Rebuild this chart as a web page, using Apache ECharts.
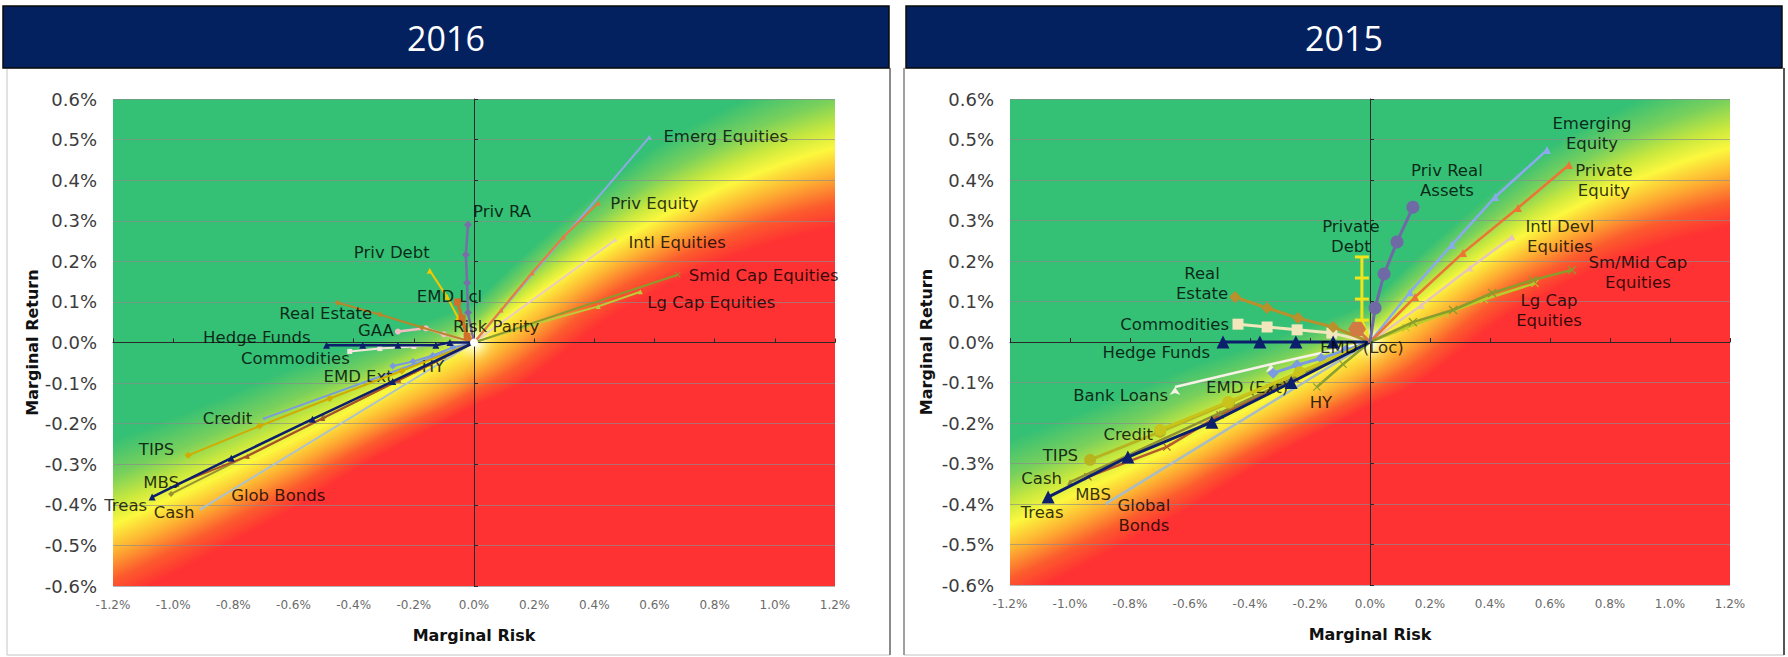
<!DOCTYPE html>
<html>
<head>
<meta charset="utf-8">
<script src="https://cdn.jsdelivr.net/npm/echarts/dist/echarts.min.js"></script>
<style>
html,body{margin:0;padding:0;background:#fff;}
#c{width:1788px;height:657px;}
</style>
</head>
<body>
<div id="c"></div>
<script>
// ================= DATA =================
// Axis ranges (percent units)
const X_MIN = -1.2, X_MAX = 1.2, X_STEP = 0.2;
const Y_MIN = -0.6, Y_MAX = 0.6, Y_STEP = 0.1;
const panelTitles = ['2016', '2015'];
const axisNames = ['Marginal Risk', 'Marginal Return'];

// ---- 2016: [marginal risk %, marginal return %]
const d16_EmergEquities = [[0,0],[0.583,0.506]];
const d16_PrivEquity    = [[0,0],[0.09,0.08],[0.193,0.172],[0.297,0.26],[0.413,0.344]];
const d16_IntlEquities  = [[0,0],[0.47,0.253]];
const d16_SmidCap       = [[0,0],[0.677,0.167]];
const d16_LgCap         = [[0,0],[0.2,0.045],[0.413,0.089],[0.553,0.125]];
const d16_PrivRA        = [[0,0],[-0.02,0.074],[-0.023,0.147],[-0.027,0.216],[-0.02,0.29]];
const d16_PrivDebt      = [[0,0],[-0.053,0.061],[-0.09,0.113],[-0.147,0.177]];
const d16_EMDLcl        = [[0,0],[-0.023,0.015],[-0.04,0.06],[-0.055,0.10]];
const d16_RealEstate    = [[0,0],[-0.173,0.037],[-0.313,0.069],[-0.453,0.098]];
const d16_GAA           = [[0,0],[-0.1,0.02],[-0.16,0.035],[-0.253,0.027]];
const d16_Commodities   = [[0,0],[-0.2,-0.01],[-0.313,-0.015],[-0.413,-0.022]];
const d16_HedgeFunds    = [[0,0],[-0.08,0],[-0.127,-0.007],[-0.253,-0.007],[-0.37,-0.007],[-0.49,-0.007]];
const d16_HY            = [[0,0],[-0.1,-0.035],[-0.2,-0.07]];
const d16_EMDExt        = [[0,0],[-0.07,-0.012],[-0.137,-0.032],[-0.203,-0.047],[-0.27,-0.058]];
const d16_Credit        = [[0,0],[-0.697,-0.187]];
const d16_TIPS          = [[0,0],[-0.24,-0.07],[-0.48,-0.138],[-0.713,-0.206],[-0.95,-0.278]];
const d16_GlobBonds     = [[0,0],[-0.907,-0.41]];
const d16_Cash          = [[0,0],[-0.5,-0.185],[-1.007,-0.373]];
const d16_MBS           = [[0,0],[-0.25,-0.093],[-0.503,-0.187],[-0.753,-0.28],[-0.987,-0.349]];
const d16_Treas         = [[0,0],[-0.27,-0.096],[-0.537,-0.189],[-0.807,-0.285],[-1.07,-0.381]];
const d16_RiskParity    = [[0,0]];

// ---- 2015
const d15_EmergingEquity = [[0,0],[0.133,0.123],[0.273,0.24],[0.417,0.358],[0.59,0.474]];
const d15_PrivateEquity  = [[0,0],[0.15,0.111],[0.31,0.22],[0.493,0.331],[0.663,0.437]];
const d15_IntlDevl       = [[0,0],[0.17,0.09],[0.333,0.183],[0.473,0.259]];
const d15_SmMidCap       = [[0,0],[0.143,0.049],[0.277,0.079],[0.407,0.121],[0.543,0.153],[0.673,0.178]];
const d15_LgCap          = [[0,0],[0.12,0.035],[0.25,0.07],[0.38,0.105],[0.55,0.145]];
const d15_PrivRealAssets = [[0,0],[0.017,0.084],[0.047,0.168],[0.09,0.247],[0.143,0.333]];
const d15_PrivateDebt    = [[0,0],[-0.027,0.054],[-0.027,0.106],[-0.027,0.158],[-0.027,0.21]];
const d15_RealEstate     = [[0,0],[-0.123,0.037],[-0.24,0.059],[-0.343,0.084],[-0.45,0.111]];
const d15_Commodities    = [[0,0],[-0.127,0.022],[-0.243,0.03],[-0.343,0.037],[-0.44,0.044]];
const d15_HedgeFunds     = [[0,0],[-0.123,0],[-0.247,0],[-0.367,0],[-0.49,0]];
const d15_EMDLoc         = [[0,0],[-0.043,0.032]];
const d15_BankLoans      = [[0,0],[-0.33,-0.055],[-0.65,-0.111]];
const d15_EMDExt         = [[0,0],[-0.08,-0.02],[-0.163,-0.04],[-0.243,-0.057],[-0.323,-0.077]];
const d15_HY             = [[0,0],[-0.09,-0.055],[-0.177,-0.111]];
const d15_GlobalBonds    = [[0,0],[-0.877,-0.398]];
const d15_MBS            = [[0,0],[-0.25,-0.09],[-0.5,-0.18],[-0.677,-0.259],[-0.94,-0.333]];
const d15_Cash           = [[0,0],[-0.5,-0.175],[-1.0,-0.346]];
const d15_Credit         = [[0,0],[-0.235,-0.075],[-0.473,-0.148],[-0.70,-0.217]];
const d15_TIPS           = [[0,0],[-0.47,-0.15],[-0.7,-0.222],[-0.933,-0.291]];
const d15_Treas          = [[0,0],[-0.263,-0.1],[-0.527,-0.198],[-0.807,-0.284],[-1.073,-0.383]];

const series2016 = [
  ['Glob Bonds', d16_GlobBonds], ['Intl Equities', d16_IntlEquities], ['Commodities', d16_Commodities],
  ['GAA', d16_GAA], ['Emerg Equities', d16_EmergEquities], ['Priv Equity', d16_PrivEquity],
  ['Lg Cap Equities', d16_LgCap], ['Smid Cap Equities', d16_SmidCap], ['Real Estate', d16_RealEstate],
  ['Credit', d16_Credit], ['HY', d16_HY], ['EMD Ext', d16_EMDExt], ['TIPS', d16_TIPS],
  ['Cash', d16_Cash], ['MBS', d16_MBS], ['Treas', d16_Treas], ['Hedge Funds', d16_HedgeFunds],
  ['Priv Debt', d16_PrivDebt], ['EMD Lcl', d16_EMDLcl], ['Priv RA', d16_PrivRA], ['Risk Parity', d16_RiskParity]
];
const series2015 = [
  ['Global Bonds', d15_GlobalBonds], ['Bank Loans', d15_BankLoans], ['Intl Devl Equities', d15_IntlDevl],
  ['Commodities', d15_Commodities], ['Emerging Equity', d15_EmergingEquity], ['Private Equity', d15_PrivateEquity],
  ['Lg Cap Equities', d15_LgCap], ['Sm/Mid Cap Equities', d15_SmMidCap], ['Real Estate', d15_RealEstate],
  ['HY', d15_HY], ['MBS', d15_MBS], ['Cash', d15_Cash], ['EMD (Ext)', d15_EMDExt], ['TIPS', d15_TIPS],
  ['Credit', d15_Credit], ['Treas', d15_Treas], ['Hedge Funds', d15_HedgeFunds], ['Private Debt', d15_PrivateDebt],
  ['EMD (Loc)', d15_EMDLoc], ['Priv Real Assets', d15_PrivRealAssets]
];
const labelText2015 = {
  'Emerging Equity':'Emerging\nEquity', 'Private Equity':'Private\nEquity', 'Intl Devl Equities':'Intl Devl\nEquities',
  'Sm/Mid Cap Equities':'Sm/Mid Cap\nEquities', 'Lg Cap Equities':'Lg Cap\nEquities', 'Priv Real Assets':'Priv Real\nAssets',
  'Private Debt':'Private\nDebt', 'Real Estate':'Real\nEstate', 'Global Bonds':'Global\nBonds'
};

// ================= STYLES =================
const XSYM = 'path://M1,0L5,4L9,0L10,1L6,5L10,9L9,10L5,6L1,10L0,9L4,5L0,1Z';
const HEX = 'path://M3,0L9,0L12,5L9,10L3,10L0,5Z';
const NAVY = '#0c1f6c';
// c: colour, s: symbol, z: symbol size, w: line width, l: [dx, dy, align]
const style2016 = {
  'Emerg Equities':   {c:'#8caae2', s:'triangle', z:5, l:[14,-1,'left']},
  'Priv Equity':      {c:'#ea7a3c', s:'triangle', z:5, l:[12,1,'left']},
  'Intl Equities':    {c:'#eacbc2', s:'triangle', z:4, l:[13,3,'left']},
  'Smid Cap Equities':{c:'#8a9c2c', s:XSYM, z:6, l:[11,1,'left']},
  'Lg Cap Equities':  {c:'#bccb3a', s:'triangle', z:5, l:[7,11,'left']},
  'Priv RA':          {c:'#7a6ea8', s:'diamond', z:8, w:2.5, l:[5,-13,'left']},
  'Priv Debt':        {c:'#f2c800', s:'triangle', z:6, l:[-38,-18,'center']},
  'EMD Lcl':          {c:'#d2702a', s:'rect', z:7, w:3.5, l:[-8,-5,'center']},
  'Real Estate':      {c:'#b8862c', s:'diamond', z:6, l:[-12,11,'center']},
  'GAA':              {c:'#f6bcc4', s:'circle', z:6, w:2.5, l:[-22,-1,'center']},
  'Commodities':      {c:'#f4e6dc', s:'rect', z:5, l:[0,7,'right']},
  'Hedge Funds':      {c:NAVY, s:'triangle', z:7, w:2.5, l:[-16,-8,'right']},
  'HY':               {c:'#a8b830', s:'triangle', z:5, l:[8,-4,'left']},
  'EMD Ext':          {c:'#7898e0', s:'diamond', z:7, l:[0,10,'right']},
  'Credit':           {c:'#7c9bdc', s:'circle', z:3, l:[-12,0,'right']},
  'TIPS':             {c:'#d2aa00', s:'diamond', z:7, l:[-14,-6,'right']},
  'Treas':            {c:NAVY, s:'triangle', z:7, w:2.5, l:[-5,8,'right']},
  'MBS':              {c:'#a8502a', s:'triangle', z:5, l:[2,-2,'right']},
  'Cash':             {c:'#9a9232', s:'diamond', z:6, l:[3,19,'center']},
  'Glob Bonds':       {c:'#a9c1d2', s:'circle', z:3, l:[30,-13,'left']},
  'Risk Parity':      {c:'#ffffff', s:'circle', z:8, l:[-21,-16,'left']}
};
const style2015 = {
  'Emerging Equity':    {c:'#8aaaee', s:'triangle', z:8, w:2.5, l:[45,-17,'center']},
  'Private Equity':     {c:'#ec7434', s:'triangle', z:8, w:2.5, l:[35,15,'center']},
  'Intl Devl Equities': {c:'#e6c6b8', s:'triangle', z:7, w:2.5, l:[48,-1,'center']},
  'Sm/Mid Cap Equities':{c:'#8a9c2c', s:XSYM, z:9, w:2.5, l:[66,3,'center']},
  'Lg Cap Equities':    {c:'#b8cc2a', s:XSYM, z:8, w:2.5, l:[14,27,'center']},
  'Priv Real Assets':   {c:'#6f6aa6', s:'circle', z:13, w:3, l:[34,-27,'center']},
  'Private Debt':       {c:'#f2e41a', s:'rect', z:[14,3], w:3, l:[-11,-20,'center']},
  'Real Estate':        {c:'#b8902c', s:'diamond', z:12, w:3, l:[-33,-14,'center']},
  'Commodities':        {c:'#f2e6bc', s:'rect', z:11, w:3, l:[-9,0,'right']},
  'Hedge Funds':        {c:NAVY, s:'triangle', z:13, w:3, l:[-13,10,'right']},
  'EMD (Loc)':          {c:'#d27a44', s:HEX, z:[18,14], w:3, l:[-37,18,'left']},
  'Bank Loans':         {c:'#f6f2e8', s:'arrow', z:8, w:2.5, l:[-7,5,'right']},
  'EMD (Ext)':          {c:'#7a9ae2', s:'diamond', z:11, w:3, l:[-26,14,'center']},
  'HY':                 {c:'#8aa030', s:XSYM, z:8, w:2.5, l:[4,16,'center']},
  'Credit':             {c:'#c8c41c', s:'circle', z:12, w:3, l:[-7,5,'right']},
  'TIPS':               {c:'#b8b420', s:'circle', z:12, w:3, l:[-12,-4,'right']},
  'Cash':               {c:'#8e8e34', s:'triangle', z:6, w:2.5, l:[-8,-4,'right']},
  'Treas':              {c:NAVY, s:'triangle', z:13, w:3, l:[-6,15,'center']},
  'MBS':                {c:'#b45c2c', s:XSYM, z:8, w:2.5, l:[5,18,'center']},
  'Global Bonds':       {c:'#a8bcc6', s:'circle', z:3, w:2.5, l:[37,12,'center']}
};

const FONT = 'DejaVu Sans';
const GRIDS = [
  {left:113, top:99, width:722, height:487},
  {left:1010, top:99, width:720, height:486}
];
const Y_NAME_GAP = [73, 76];

// ================= BACKGROUND (decorative risk/return gradient) =================
const STOPS = [
  [-1.3,[254,50,50]], [-0.9,[252,92,45]], [-0.45,[253,176,50]], [0,[252,248,62]],
  [0.35,[200,232,62]], [0.8,[120,208,92]], [1.4,[52,192,117]]
];
function bgRGB(x, y, pxPerX, pxPerY) {
  const yc = x >= 0 ? 0.6*x - 0.167*x*x : 0.425*x + 0.042*x*x;
  const ax = Math.abs(x);
  const s = 0.07 + 0.06*Math.min(ax/0.6,1) + 0.02*Math.max(0,(ax-0.6)/0.6);
  let t = (y - yc) / s;
  const r = Math.hypot(x*pxPerX, y*pxPerY);
  if (t < 0) t *= 1 - 0.55*Math.exp(-Math.pow(r/120,2));
  let col;
  if (t <= STOPS[0][0]) col = STOPS[0][1];
  else if (t >= STOPS[STOPS.length-1][0]) col = STOPS[STOPS.length-1][1];
  else {
    for (let i = 0; i < STOPS.length-1; i++) {
      const a = STOPS[i], b = STOPS[i+1];
      if (t >= a[0] && t <= b[0]) {
        const f = (t - a[0])/(b[0]-a[0]);
        col = [0,1,2].map(k => a[1][k] + (b[1][k]-a[1][k])*f);
        break;
      }
    }
  }
  const g = 0.85*Math.exp(-Math.pow(r/12,2));
  return col.map(v => v + (255 - v)*g);
}
function makeBg(w, h) {
  const cv = document.createElement('canvas');
  cv.width = w; cv.height = h;
  const ctx = cv.getContext('2d');
  const img = ctx.createImageData(w, h);
  const pxX = w/(X_MAX-X_MIN), pxY = h/(Y_MAX-Y_MIN);
  for (let py = 0; py < h; py++) {
    const y = Y_MAX - (py+0.5)/h*(Y_MAX-Y_MIN);
    for (let px = 0; px < w; px++) {
      const x = X_MIN + (px+0.5)/w*(X_MAX-X_MIN);
      const c = bgRGB(x, y, pxX, pxY);
      const o = (py*w+px)*4;
      img.data[o]=c[0]; img.data[o+1]=c[1]; img.data[o+2]=c[2]; img.data[o+3]=255;
    }
  }
  ctx.putImageData(img, 0, 0);
  return cv.toDataURL();
}

// ================= BUILD =================
const fmtPct = v => (Math.abs(v) < 1e-9 ? 0 : v).toFixed(1) + '%';

function buildSeries(list, styles, texts, xi, yi) {
  return list.map(([name, pts], idx) => {
    const st = styles[name];
    const last = pts.length - 1;
    const txt = (texts && texts[name]) || name;
    const data = pts.map((p, i) => {
      const item = {value: p};
      if (pts.length > 1 && p[0] === 0 && p[1] === 0) item.symbolSize = 0;
      if (i === last) {
        item.label = {
          show: true, formatter: txt,
          position: 'inside', align: st.l[2], verticalAlign: 'middle',
          offset: [st.l[0], st.l[1]], color: 'rgba(0,0,0,0.8)',
          fontFamily: FONT, fontSize: 16.5, lineHeight: txt.indexOf('\n') >= 0 ? 20 : 18
        };
      }
      return item;
    });
    return {
      type: 'line', name, xAxisIndex: xi, yAxisIndex: yi, data,
      symbol: st.s, symbolSize: st.z, showSymbol: true,
      lineStyle: {color: st.c, width: st.w || 2},
      itemStyle: {color: st.c},
      label: {show: false}, z: 3 + idx*0.01, silent: true, animation: false
    };
  });
}

function axesFor(g) {
  const xs = [
    {gridIndex:g, type:'value', min:X_MIN, max:X_MAX, interval:X_STEP,
     axisLine:{show:false, onZero:false}, axisTick:{show:false}, splitLine:{show:false},
     axisLabel:{formatter:fmtPct, fontSize:12, color:'#6a6a6a', margin:13, fontFamily:FONT},
     name:axisNames[0], nameLocation:'middle', nameGap:41,
     nameTextStyle:{fontWeight:'bold', fontSize:16, color:'#111', fontFamily:FONT}},
    {gridIndex:g, type:'value', min:X_MIN, max:X_MAX, interval:X_STEP,
     axisLine:{show:true, onZero:true, lineStyle:{color:'#2a2a2a', width:1}},
     axisTick:{show:true, length:4, lineStyle:{color:'#2a2a2a'}},
     axisLabel:{show:false}, splitLine:{show:false}}
  ];
  const ys = [
    {gridIndex:g, type:'value', min:Y_MIN, max:Y_MAX, interval:Y_STEP,
     axisLine:{show:false, onZero:false}, axisTick:{show:false},
     splitLine:{show:true, lineStyle:{color:'rgba(140,140,140,0.65)', width:1}},
     axisLabel:{formatter:fmtPct, fontSize:18, color:'#3c3c3c', margin:16, fontFamily:FONT},
     name:axisNames[1], nameLocation:'middle', nameGap:Y_NAME_GAP[g], nameRotate:90,
     nameTextStyle:{fontWeight:'bold', fontSize:16, color:'#111', fontFamily:FONT}},
    {gridIndex:g, type:'value', min:Y_MIN, max:Y_MAX, interval:Y_STEP,
     axisLine:{show:true, onZero:true, lineStyle:{color:'#2a2a2a', width:1}},
     axisTick:{show:true, length:4, lineStyle:{color:'#2a2a2a'}},
     axisLabel:{show:false}, splitLine:{show:false}}
  ];
  return {xs, ys};
}

const a0 = axesFor(0), a1 = axesFor(1);

const graphics = [
  // panel frames
  {type:'rect', shape:{x:7, y:68, width:883, height:587}, style:{fill:'#fff', stroke:'#c4c4c4', lineWidth:1}, z:-20},
  {type:'line', shape:{x1:890, y1:68, x2:890, y2:655}, style:{stroke:'#8a8a8a', lineWidth:2}, z:-19},
  {type:'rect', shape:{x:904, y:68, width:880, height:587}, style:{fill:'#fff', stroke:'#c4c4c4', lineWidth:1}, z:-20},
  {type:'line', shape:{x1:904, y1:68, x2:904, y2:655}, style:{stroke:'#8a8a8a', lineWidth:1.5}, z:-19},
  {type:'line', shape:{x1:1784, y1:68, x2:1784, y2:655}, style:{stroke:'#555', lineWidth:2}, z:-19},
  // headers
  {type:'rect', shape:{x:3, y:6, width:886, height:62}, style:{fill:'#04215f', stroke:'#0a0a0a', lineWidth:1.5}, z:-18},
  {type:'rect', shape:{x:906, y:6, width:876, height:62}, style:{fill:'#04215f', stroke:'#0a0a0a', lineWidth:1.5}, z:-18},
  {type:'text', style:{text:panelTitles[0], x:446, y:38, fill:'#fff', fontSize:34, fontFamily:'Open Sans', align:'center', verticalAlign:'middle'}, z:-17},
  {type:'text', style:{text:panelTitles[1], x:1344, y:38, fill:'#fff', fontSize:34, fontFamily:'Open Sans', align:'center', verticalAlign:'middle'}, z:-17},
  // plot-area backgrounds
  {type:'image', style:{image:makeBg(GRIDS[0].width, GRIDS[0].height), x:GRIDS[0].left, y:GRIDS[0].top, width:GRIDS[0].width, height:GRIDS[0].height}, z:-15},
  {type:'image', style:{image:makeBg(GRIDS[1].width, GRIDS[1].height), x:GRIDS[1].left, y:GRIDS[1].top, width:GRIDS[1].width, height:GRIDS[1].height}, z:-15}
];

const chart = echarts.init(document.getElementById('c'), null, {renderer:'svg', width:1788, height:657});
chart.setOption({
  animation: false,
  backgroundColor: '#ffffff',
  grid: GRIDS.map(g => Object.assign({containLabel:false}, g)),
  xAxis: [...a0.xs, ...a1.xs],
  yAxis: [...a0.ys, ...a1.ys],
  graphic: {elements: graphics},
  series: [
    ...buildSeries(series2016, style2016, null, 0, 0),
    ...buildSeries(series2015, style2015, labelText2015, 2, 2)
  ]
});
</script>
</body>
</html>
